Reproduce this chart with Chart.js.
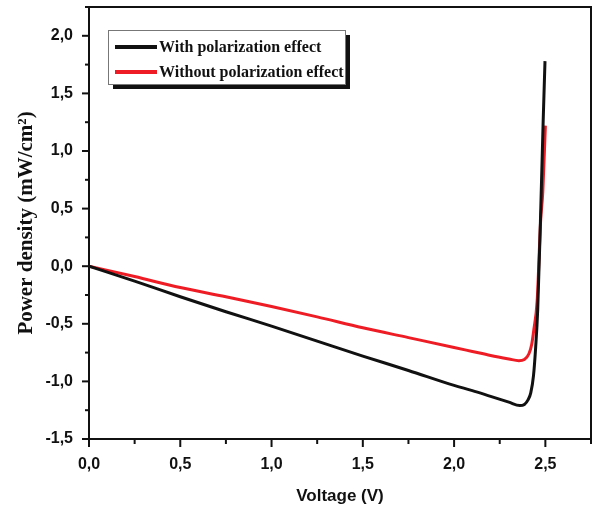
<!DOCTYPE html>
<html>
<head>
<meta charset="utf-8">
<script src="https://cdn.jsdelivr.net/npm/chart.js@4"></script>
<style>
  html, body { margin: 0; padding: 0; background: #fff; }
  #powerChart { display: block; }
</style>
</head>
<body>
<canvas id="powerChart" width="593" height="508"></canvas>
<script>
// Datos
const seriesNames = ["With polarization effect", "Without polarization effect"];

const withVoltage = [0, 0.25, 0.5, 0.75, 1.0, 1.25, 1.5, 1.75, 2.0, 2.1, 2.2, 2.3, 2.36, 2.385, 2.405, 2.42, 2.435, 2.447, 2.458, 2.473, 2.488, 2.498];
const withPower   = [0, -0.13, -0.265, -0.395, -0.52, -0.65, -0.78, -0.905, -1.035, -1.08, -1.13, -1.18, -1.21, -1.2, -1.16, -1.1, -0.95, -0.7, -0.38, 0.39, 1.26, 1.78];

const withoutVoltage = [0, 0.25, 0.5, 0.75, 1.0, 1.25, 1.5, 1.75, 2.0, 2.1, 2.2, 2.3, 2.355, 2.385, 2.41, 2.425, 2.437, 2.455, 2.474, 2.486, 2.5];
const withoutPower   = [0, -0.09, -0.185, -0.265, -0.35, -0.44, -0.535, -0.62, -0.705, -0.74, -0.775, -0.805, -0.82, -0.81, -0.76, -0.68, -0.55, -0.3, 0.39, 0.65, 1.22];

const xTickValues = [0, 0.5, 1.0, 1.5, 2.0, 2.5];
const yTickValues = [-1.5, -1.0, -0.5, 0, 0.5, 1.0, 1.5, 2.0];

const seriesColors = ["#111111", "#ee1c24"];

function toPoints(xs, ys) {
    return xs.map((x, i) => ({ x: x, y: ys[i] }));
}

function isMajor(value, list) {
    return list.some(v => Math.abs(v - value) < 1e-6);
}

function commaLabel(value, list) {
    return isMajor(value, list) ? value.toFixed(1).replace('.', ',') : '';
}

// quitar el espacio extra que Chart.js reserva para las etiquetas de los extremos
function noScalePadding(scale) {
    scale.paddingTop = 0;
    scale.paddingBottom = 0;
    scale.paddingLeft = 0;
    scale.paddingRight = 0;
}

// marco, marcas de los ejes y leyenda con sombra
const framePlugin = {
    id: 'framePlugin',
    afterDatasetsDraw(chart) {
        const ctx = chart.ctx;
        const area = chart.chartArea;
        const xs = chart.scales.x;
        const ys = chart.scales.y;
        ctx.save();
        ctx.strokeStyle = '#111';
        ctx.lineWidth = 2;
        ctx.strokeRect(area.left, area.top, area.right - area.left, area.bottom - area.top);

        xs.ticks.forEach(t => {
            const px = xs.getPixelForValue(t.value);
            const len = isMajor(t.value, xTickValues) ? 8 : 5;
            ctx.beginPath();
            ctx.moveTo(px, area.bottom);
            ctx.lineTo(px, area.bottom + len);
            ctx.stroke();
        });
        ys.ticks.forEach(t => {
            const py = ys.getPixelForValue(t.value);
            const len = isMajor(t.value, yTickValues) ? 7 : 4;
            ctx.beginPath();
            ctx.moveTo(area.left, py);
            ctx.lineTo(area.left - len, py);
            ctx.stroke();
        });

        // leyenda
        const bx = 108, by = 30, bw = 237, bh = 54;
        ctx.fillStyle = '#111';
        ctx.fillRect(bx + 5, by + 5, bw, bh);
        ctx.fillStyle = '#fff';
        ctx.fillRect(bx, by, bw, bh);
        ctx.strokeStyle = '#777';
        ctx.lineWidth = 1;
        ctx.strokeRect(bx + 0.5, by + 0.5, bw, bh);

        ctx.font = 'bold 16px "Liberation Serif", "Times New Roman", serif';
        ctx.textBaseline = 'middle';
        chart.data.datasets.forEach((ds, i) => {
            const yy = 47 + i * 25;
            ctx.strokeStyle = ds.borderColor;
            ctx.lineWidth = 4;
            ctx.beginPath();
            ctx.moveTo(115, yy);
            ctx.lineTo(157, yy);
            ctx.stroke();
            ctx.fillStyle = '#111';
            ctx.fillText(ds.label, 159, yy + 1);
        });
        ctx.restore();
    }
};

const tickFont = { family: '"Liberation Sans", Arial, sans-serif', size: 16, weight: 'bold' };

new Chart(document.getElementById('powerChart').getContext('2d'), {
    type: 'scatter',
    data: {
        datasets: [{
            label: seriesNames[0],
            data: toPoints(withVoltage, withPower),
            borderColor: seriesColors[0],
            backgroundColor: seriesColors[0],
            borderWidth: 3,
            showLine: true,
            pointRadius: 0,
            cubicInterpolationMode: 'monotone'
        }, {
            label: seriesNames[1],
            data: toPoints(withoutVoltage, withoutPower),
            borderColor: seriesColors[1],
            backgroundColor: seriesColors[1],
            borderWidth: 3,
            showLine: true,
            pointRadius: 0,
            cubicInterpolationMode: 'monotone'
        }]
    },
    options: {
        responsive: false,
        animation: false,
        layout: { padding: { top: 7, right: 2, left: 0, bottom: 0 } },
        plugins: {
            legend: { display: false },
            tooltip: { enabled: false }
        },
        scales: {
            x: {
                type: 'linear',
                min: 0,
                max: 2.75,
                grid: { display: false, drawTicks: false },
                border: { display: false },
                ticks: {
                    stepSize: 0.25,
                    autoSkip: false,
                    maxRotation: 0,
                    padding: 16,
                    color: '#111',
                    font: tickFont,
                    callback: v => commaLabel(v, xTickValues)
                },
                title: {
                    display: true,
                    text: 'Voltage (V)',
                    color: '#111',
                    font: { family: '"Liberation Sans", Arial, sans-serif', size: 17, weight: 'bold' },
                    padding: { top: 0, bottom: 1 }
                },
                afterFit: scale => { scale.height = 69; noScalePadding(scale); }
            },
            y: {
                type: 'linear',
                min: -1.5,
                max: 2.25,
                grid: { display: false, drawTicks: false },
                border: { display: false },
                ticks: {
                    stepSize: 0.25,
                    autoSkip: false,
                    padding: 16,
                    color: '#111',
                    font: tickFont,
                    callback: v => commaLabel(v, yTickValues)
                },
                title: {
                    display: true,
                    text: 'Power density (mW/cm²)',
                    color: '#111',
                    font: { family: '"Liberation Serif", "Times New Roman", serif', size: 21, weight: 'bold' },
                    padding: { top: 14, bottom: 0 }
                },
                afterFit: scale => { scale.width = 89; noScalePadding(scale); }
            }
        }
    },
    plugins: [framePlugin]
});
</script>
</body>
</html>
